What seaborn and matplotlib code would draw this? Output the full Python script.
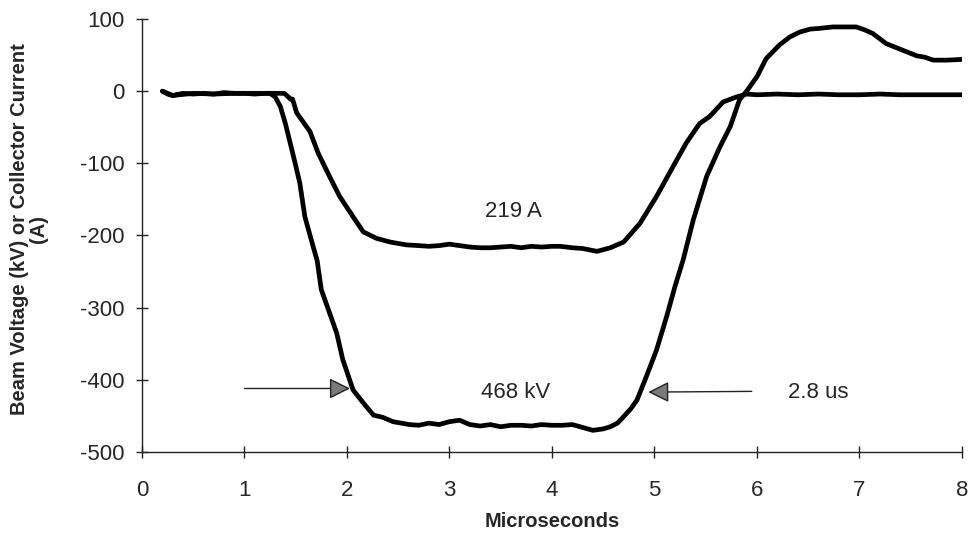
import matplotlib
matplotlib.use('Agg')
import matplotlib.pyplot as plt
import seaborn as sns

# beam voltage trace (kV)
volt_t = [0.20, 0.25, 0.30, 0.40, 0.50, 0.60, 0.70, 0.80, 0.90, 1.00, 1.10, 1.20, 1.25, 1.30,
          1.35, 1.40, 1.48, 1.54, 1.59, 1.67, 1.71, 1.75, 1.82, 1.90, 1.96, 2.06, 2.16, 2.26,
          2.35, 2.45, 2.61, 2.70, 2.80, 2.90, 3.00, 3.10, 3.20, 3.30, 3.40, 3.50, 3.60, 3.70,
          3.80, 3.90, 4.00, 4.10, 4.20, 4.30, 4.40, 4.50, 4.57, 4.64, 4.70, 4.77, 4.83, 4.92,
          5.02, 5.12, 5.20, 5.28, 5.38, 5.51, 5.64, 5.74, 5.83, 5.90, 6.00, 6.09, 6.22, 6.32,
          6.42, 6.52, 6.61, 6.74, 6.85, 6.97, 7.05, 7.13, 7.26, 7.40, 7.56, 7.64, 7.72, 7.85, 8.00]
volt_kv = [0, -3, -6, -3, -4, -3, -4, -2, -3, -3, -4, -3, -3, -8,
           -21, -45, -91, -127, -174, -215, -235, -275, -303, -335, -372, -414, -432, -449,
           -452, -458, -462, -463, -460, -462, -458, -456, -462, -464, -462, -465, -463, -463,
           -464, -462, -463, -463, -462, -466, -470, -468, -465, -460, -451, -440, -428, -396,
           -359, -312, -271, -234, -178, -118, -77, -49, -12, 0, 20, 45, 64, 75,
           82, 86, 87, 89, 89, 89, 85, 80, 66, 58, 49, 47, 43, 43, 44]

# collector current trace (A)
curr_t = [0.20, 0.25, 0.30, 0.50, 0.70, 0.90, 1.10, 1.30, 1.39, 1.45, 1.47, 1.51, 1.57, 1.64,
          1.72, 1.83, 1.93, 2.06, 2.16, 2.29, 2.42, 2.58, 2.70, 2.80, 2.90, 3.00, 3.10, 3.20,
          3.30, 3.40, 3.50, 3.60, 3.70, 3.80, 3.90, 4.00, 4.08, 4.20, 4.30, 4.44, 4.57, 4.70,
          4.86, 5.02, 5.18, 5.31, 5.44, 5.54, 5.67, 5.80, 5.90, 6.00, 6.20, 6.40, 6.60, 6.80,
          7.00, 7.20, 7.40, 7.60, 7.80, 8.00]
curr_a = [0, -4, -6, -3, -4, -3, -3, -3, -3, -11, -11, -30, -42, -56,
          -86, -118, -146, -174, -195, -204, -209, -213, -214, -215, -214, -212, -214, -216,
          -217, -217, -216, -215, -217, -215, -216, -215, -215, -217, -218, -222, -217, -209,
          -183, -146, -105, -72, -45, -35, -15, -8, -4, -5, -4, -5, -4, -5,
          -5, -4, -5, -5, -5, -5]

y_ticks = [-500, -400, -300, -200, -100, 0, 100]
x_ticks = [0, 1, 2, 3, 4, 5, 6, 7, 8]

sns.set_style('ticks')
plt.rcParams['font.family'] = ['Liberation Sans', 'DejaVu Sans']
plt.rcParams['axes.unicode_minus'] = False

fig = plt.figure(figsize=(9.72, 5.43), dpi=100)
ax = fig.add_axes([0.146, 0.1676, 0.8436, 0.7974])

sns.lineplot(x=volt_t, y=volt_kv, color='black', lw=3.4, ax=ax, sort=False)
sns.lineplot(x=curr_t, y=curr_a, color='black', lw=3.4, ax=ax, sort=False)

ax.set_xlim(0, 8)
ax.set_ylim(-500, 100)
ax.set_xticks(x_ticks)
ax.set_yticks(y_ticks)
sns.despine(ax=ax)
for s in ['left', 'bottom']:
    ax.spines[s].set_linewidth(1.0)
    ax.spines[s].set_color('#222222')
ax.tick_params(axis='both', direction='inout', length=8.5, width=1, color='#222222',
               labelsize=16)
ax.tick_params(axis='x', pad=16)
ax.tick_params(axis='y', pad=8)

ax.set_xlabel('Microseconds', fontsize=14.5, fontweight='bold', labelpad=8)
ax.set_ylabel('Beam Voltage (kV) or Collector Current\n(A)', fontsize=14.5,
              fontweight='bold', linespacing=1.05)
ax.yaxis.set_label_coords(-0.114, 0.515)

# annotations
ax.text(3.62, -167, '219 A', fontsize=16, ha='center', va='center')
ax.text(3.65, -417, '468 kV', fontsize=16, ha='center', va='center')
ax.text(6.30, -417, '2.8 us', fontsize=16, ha='left', va='center')
arrow = dict(arrowstyle='-|>', mutation_scale=32, fc='#7a7a7a', ec='#222222', lw=1.0,
             shrinkA=0, shrinkB=0)
ax.annotate('', xy=(2.03, -412), xytext=(1.0, -412), arrowprops=arrow)
ax.annotate('', xy=(4.94, -417), xytext=(5.95, -416), arrowprops=arrow)

fig.savefig('out.png', dpi=100)
